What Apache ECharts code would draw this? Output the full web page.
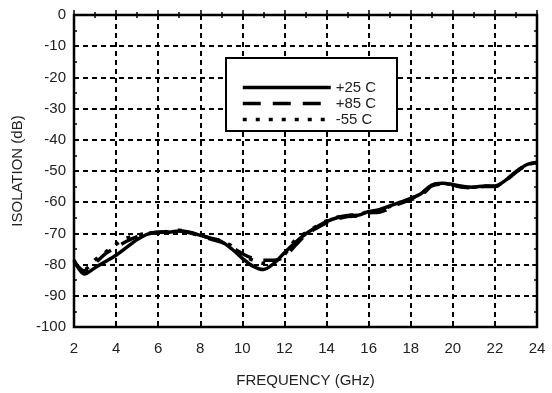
<!DOCTYPE html>
<html>
<head>
<meta charset="utf-8">
<script src="https://cdn.jsdelivr.net/npm/echarts@6/dist/echarts.min.js"></script>
<style>
  html, body { margin: 0; padding: 0; background: #fff; }
  #chart { width: 552px; height: 393px; }
</style>
</head>
<body>
<div id="chart"></div>
<script>
// isolation vs frequency
const freq25 = [2.0, 2.5, 3.0, 3.5, 4.0, 4.5, 5.0, 5.5, 6.0, 6.5, 7.0, 7.5, 8.0, 8.5, 9.0, 9.5, 10.0, 10.5, 11.0, 11.5, 12.0, 12.5, 13.0, 13.5, 14.0, 14.5, 15.0, 15.5, 16.0, 16.5, 17.0, 17.5, 18.0, 18.5, 19.0, 19.5, 20.0, 20.5, 21.0, 21.5, 22.0, 22.5, 23.0, 23.5, 24.0]
const iso25 = [-78.5, -83, -81, -79, -77, -74.5, -72, -70.2, -69.6, -69.6, -69.2, -69.6, -70.6, -71.5, -72.6, -75, -78, -80.5, -81.6, -79.6, -76.2, -73, -70.2, -68, -66.2, -65, -64.3, -64.2, -63, -62.4, -61.2, -60, -58.8, -57.2, -54.5, -53.9, -54.3, -55, -55.2, -54.8, -54.8, -53, -50.2, -48, -47.2]

const freq85 = [2.0, 2.5, 3.0, 3.5, 4.0, 4.5, 5.0, 5.5, 6.0, 6.5, 7.0, 7.5, 8.0, 8.5, 9.0, 9.5, 10.0, 10.5, 11.0, 11.5, 12.0, 12.5, 13.0, 13.5, 14.0, 14.5, 15.0, 15.5, 16.0, 16.5, 17.0, 17.5, 18.0, 18.5, 19.0, 19.5, 20.0, 20.5, 21.0, 21.5, 22.0, 22.5, 23.0, 23.5, 24.0]
const iso85 = [-79, -82, -79.5, -76.5, -74.5, -72.5, -71, -70, -69.6, -69.4, -69.2, -69.8, -70.8, -71.8, -72.8, -74.5, -76.5, -78, -78.6, -78.6, -77.5, -74, -70.6, -68.4, -66.6, -65.4, -64.6, -64.4, -63.4, -63.2, -62, -60.4, -59.2, -57.8, -54.8, -54.2, -54.6, -55.2, -55.4, -55, -55, -53.2, -50.4, -48.2, -47.4]

const freq55 = [2.0, 2.5, 3.0, 3.5, 4.0, 4.5, 5.0, 5.5, 6.0, 6.5, 7.0, 7.5, 8.0, 8.5, 9.0, 9.5, 10.0, 10.5, 11.0, 11.5, 12.0, 12.5, 13.0, 13.5, 14.0, 14.5, 15.0, 15.5, 16.0, 16.5, 17.0, 17.5, 18.0, 18.5, 19.0, 19.5, 20.0, 20.5, 21.0, 21.5, 22.0, 22.5, 23.0, 23.5, 24.0]
const iso55 = [-79.5, -81.5, -78.5, -76, -73.5, -71.5, -70.6, -70, -69.8, -69.5, -69, -69.7, -70.6, -71.6, -72.4, -74, -76.8, -78.6, -79.6, -79, -76.8, -72.2, -69.8, -67.8, -66, -64.8, -64.2, -64, -63, -62.6, -61.4, -60.2, -58.8, -57.4, -54.6, -54, -54.4, -55, -55.2, -54.9, -54.9, -53, -50.3, -48.1, -47.3]

const seriesNames = ['+25 C', '+85 C', '-55 C']
const xTicks = [2, 4, 6, 8, 10, 12, 14, 16, 18, 20, 22, 24]
const yTicks = [-100, -90, -80, -70, -60, -50, -40, -30, -20, -10, 0]

const pairs = (xs, ys) => xs.map((x, i) => [x, ys[i]])

const chart = echarts.init(document.getElementById('chart'))

const font = 'Liberation Sans, Arial, sans-serif'
const tickStyle = { show: true, inside: true, length: 5, lineStyle: { color: '#000', width: 1.5 } }
const minorStyle = { show: true, splitNumber: 2, length: 3, lineStyle: { color: '#000', width: 1.5 } }
const gridDash = { show: true, lineStyle: { color: '#000', width: 2, type: [5, 4] } }

const option = {
  animation: false,
  grid: {
    left: 74, right: 15, top: 15, bottom: 62,
    show: true, borderColor: '#000', borderWidth: 2.5
  },
  legend: {
    orient: 'vertical',
    left: 236,
    top: 75,
    itemWidth: 88,
    itemHeight: 14,
    itemGap: 1,
    data: seriesNames,
    itemStyle: { opacity: 0 },
    lineStyle: { width: 3.5 },
    textStyle: { fontFamily: font, fontSize: 15, color: '#222', padding: [0, 0, 0, 0] }
  },
  graphic: [{
    type: 'rect',
    z: 3,
    shape: { x: 226, y: 58, width: 171, height: 73 },
    style: { fill: '#fff', stroke: '#000', lineWidth: 2 }
  }],
  xAxis: [{
    type: 'value',
    min: xTicks[0], max: xTicks[xTicks.length - 1], interval: 2,
    name: 'FREQUENCY (GHz)',
    nameLocation: 'middle',
    nameGap: 46,
    nameTextStyle: { fontFamily: font, fontSize: 15, color: '#222' },
    axisLine: { show: false },
    axisTick: tickStyle,
    minorTick: minorStyle,
    axisLabel: { fontFamily: font, fontSize: 15, color: '#222', margin: 14 },
    splitLine: gridDash
  }, {
    type: 'value', position: 'top',
    min: xTicks[0], max: xTicks[xTicks.length - 1], interval: 2,
    axisLine: { show: false }, axisTick: tickStyle, minorTick: minorStyle,
    axisLabel: { show: false }, splitLine: { show: false }
  }],
  yAxis: [{
    type: 'value',
    min: yTicks[0], max: yTicks[yTicks.length - 1], interval: 10,
    name: 'ISOLATION (dB)',
    nameLocation: 'middle',
    nameGap: 46,
    nameTextStyle: { fontFamily: font, fontSize: 15, color: '#222' },
    axisLine: { show: false },
    axisTick: tickStyle,
    minorTick: minorStyle,
    axisLabel: { fontFamily: font, fontSize: 15, color: '#222', margin: 8 },
    splitLine: gridDash
  }, {
    type: 'value', position: 'right',
    min: yTicks[0], max: yTicks[yTicks.length - 1], interval: 10,
    axisLine: { show: false }, axisTick: tickStyle, minorTick: minorStyle,
    axisLabel: { show: false }, splitLine: { show: false }
  }],
  series: [
    {
      name: seriesNames[0], type: 'line', symbol: 'none', smooth: 0.3, z: 4,
      data: pairs(freq25, iso25),
      lineStyle: { color: '#000', width: 3.5 }
    },
    {
      name: seriesNames[1], type: 'line', symbol: 'none', smooth: 0.3, z: 3,
      data: pairs(freq85, iso85),
      lineStyle: { color: '#000', width: 3.5, type: [18, 12] }
    },
    {
      name: seriesNames[2], type: 'line', symbol: 'none', smooth: 0.3, z: 3,
      data: pairs(freq55, iso55),
      lineStyle: { color: '#000', width: 3.5, type: [4, 9] }
    }
  ]
}

chart.setOption(option)
</script>
</body>
</html>
